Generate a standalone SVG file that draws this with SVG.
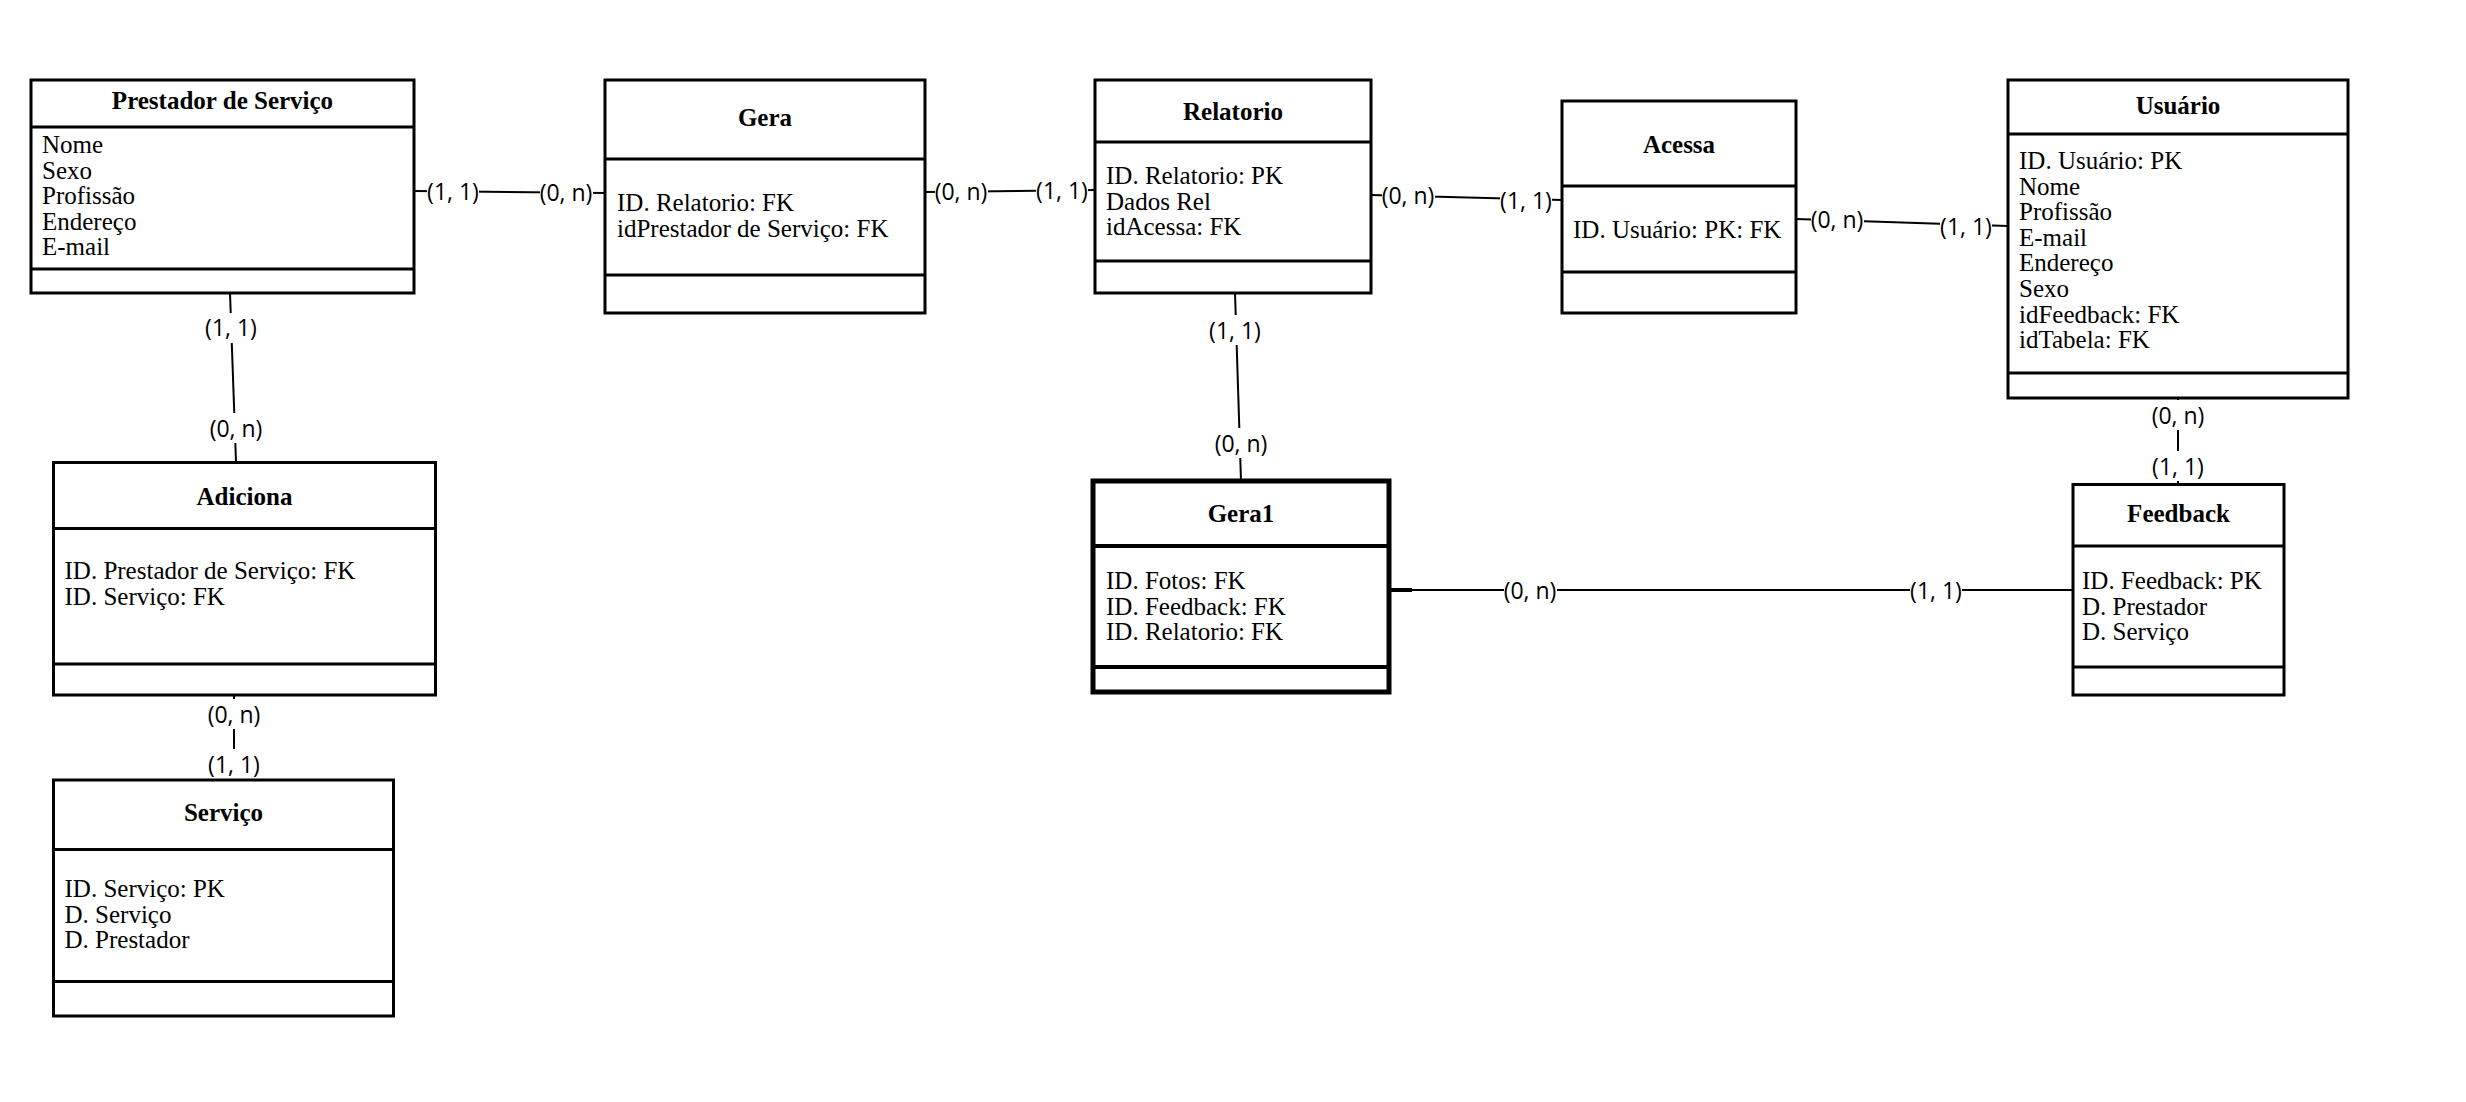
<svg xmlns="http://www.w3.org/2000/svg" width="2466" height="1102" viewBox="0 0 2466 1102">
  <style>
    .box { fill: #ffffff; stroke: #000000; stroke-width: 3; }
    .box-strong { fill: #ffffff; stroke: #000000; stroke-width: 5; }
    .sep { stroke: #000000; stroke-width: 3; }
    .sep-strong { stroke: #000000; stroke-width: 4; }
    .title { font-family: "Liberation Serif", "Times New Roman", serif; font-size: 25px; font-weight: bold; text-anchor: middle; fill: #000; }
    .attr { font-family: "Liberation Serif", "Times New Roman", serif; font-size: 25px; fill: #000; }
    .link { stroke: #000000; stroke-width: 2; fill: none; }
    .card { font-family: "Open Sans", "Noto Sans", sans-serif; font-size: 23px; text-anchor: middle; dominant-baseline: central; fill: #000; }
    .card-bg { fill: #ffffff; }
  </style>

  <rect x="0" y="0" width="2466" height="1102" fill="#ffffff"/>

  <!-- relationship lines and cardinalities -->
  <g id="connectors">
    <!-- Prestador de Serviço - Gera -->
    <line class="link" x1="414" y1="191" x2="605" y2="193"/>
    <!-- Gera - Relatorio -->
    <line class="link" x1="925" y1="192" x2="1095" y2="190"/>
    <!-- Relatorio - Acessa -->
    <line class="link" x1="1371" y1="195" x2="1562" y2="200"/>
    <!-- Acessa - Usuário -->
    <line class="link" x1="1796" y1="219" x2="2008" y2="226"/>
    <!-- Prestador de Serviço - Adiciona -->
    <line class="link" x1="230" y1="293" x2="236" y2="462"/>
    <!-- Adiciona - Serviço -->
    <line class="link" x1="234" y1="695" x2="234" y2="780"/>
    <!-- Relatorio - Gera1 -->
    <line class="link" x1="1235" y1="293" x2="1241" y2="481"/>
    <!-- Usuário - Feedback -->
    <line class="link" x1="2178" y1="398" x2="2178" y2="484"/>
    <!-- Gera1 - Feedback -->
    <line class="link" x1="1389" y1="590" x2="2073" y2="590"/>
    <line x1="1389" y1="590" x2="1412" y2="590" stroke="#000" stroke-width="4"/>

    <g id="cardinalities">
      <rect class="card-bg" x="427" y="178" width="52" height="28"/>
      <text class="card" x="453" y="191">(1, 1)</text>
      <rect class="card-bg" x="540" y="179" width="53" height="28"/>
      <text class="card" x="566" y="192">(0, n)</text>

      <rect class="card-bg" x="935" y="178" width="53" height="28"/>
      <text class="card" x="961" y="191">(0, n)</text>
      <rect class="card-bg" x="1036" y="177" width="52" height="28"/>
      <text class="card" x="1062" y="190">(1, 1)</text>

      <rect class="card-bg" x="1382" y="182" width="53" height="28"/>
      <text class="card" x="1408" y="195">(0, n)</text>
      <rect class="card-bg" x="1500" y="187" width="52" height="28"/>
      <text class="card" x="1526" y="200">(1, 1)</text>

      <rect class="card-bg" x="1811" y="206" width="53" height="28"/>
      <text class="card" x="1837" y="219">(0, n)</text>
      <rect class="card-bg" x="1940" y="213" width="52" height="28"/>
      <text class="card" x="1966" y="226">(1, 1)</text>

      <rect class="card-bg" x="205" y="313" width="52" height="30"/>
      <text class="card" x="231" y="327">(1, 1)</text>
      <rect class="card-bg" x="210" y="413" width="53" height="30"/>
      <text class="card" x="236" y="428">(0, n)</text>

      <rect class="card-bg" x="208" y="699" width="53" height="30"/>
      <text class="card" x="234" y="714">(0, n)</text>
      <rect class="card-bg" x="208" y="749" width="52" height="30"/>
      <text class="card" x="234" y="764">(1, 1)</text>

      <rect class="card-bg" x="1209" y="315" width="52" height="30"/>
      <text class="card" x="1235" y="330">(1, 1)</text>
      <rect class="card-bg" x="1215" y="428" width="53" height="30"/>
      <text class="card" x="1241" y="443">(0, n)</text>

      <rect class="card-bg" x="2152" y="400" width="53" height="30"/>
      <text class="card" x="2178" y="415">(0, n)</text>
      <rect class="card-bg" x="2152" y="451" width="52" height="30"/>
      <text class="card" x="2178" y="466">(1, 1)</text>

      <rect class="card-bg" x="1504" y="576" width="53" height="28"/>
      <text class="card" x="1530" y="590">(0, n)</text>
      <rect class="card-bg" x="1910" y="576" width="52" height="28"/>
      <text class="card" x="1936" y="590">(1, 1)</text>
    </g>
  </g>

  <!-- entity: Prestador de Serviço -->
  <g id="prestador-servico">
    <rect class="box" x="31" y="80" width="383" height="213"/>
    <line class="sep" x1="31" y1="127" x2="414" y2="127"/>
    <line class="sep" x1="31" y1="269" x2="414" y2="269"/>
    <text class="title" x="222.5" y="109">Prestador de Serviço</text>
    <text class="attr" x="42" y="153">Nome</text>
    <text class="attr" x="42" y="178.6">Sexo</text>
    <text class="attr" x="42" y="204.2">Profissão</text>
    <text class="attr" x="42" y="229.8">Endereço</text>
    <text class="attr" x="42" y="255.4">E-mail</text>
  </g>

  <!-- relationship table: Gera -->
  <g id="gera">
    <rect class="box" x="605" y="80" width="320" height="233"/>
    <line class="sep" x1="605" y1="159" x2="925" y2="159"/>
    <line class="sep" x1="605" y1="275" x2="925" y2="275"/>
    <text class="title" x="765" y="126">Gera</text>
    <text class="attr" x="617" y="211">ID. Relatorio: FK</text>
    <text class="attr" x="617" y="236.6">idPrestador de Serviço: FK</text>
  </g>

  <!-- entity: Relatorio -->
  <g id="relatorio">
    <rect class="box" x="1095" y="80" width="276" height="213"/>
    <line class="sep" x1="1095" y1="142" x2="1371" y2="142"/>
    <line class="sep" x1="1095" y1="261" x2="1371" y2="261"/>
    <text class="title" x="1233" y="120">Relatorio</text>
    <text class="attr" x="1106" y="184">ID. Relatorio: PK</text>
    <text class="attr" x="1106" y="209.6">Dados Rel</text>
    <text class="attr" x="1106" y="235.2">idAcessa: FK</text>
  </g>

  <!-- relationship table: Acessa -->
  <g id="acessa">
    <rect class="box" x="1562" y="101" width="234" height="212"/>
    <line class="sep" x1="1562" y1="186" x2="1796" y2="186"/>
    <line class="sep" x1="1562" y1="272" x2="1796" y2="272"/>
    <text class="title" x="1679" y="153">Acessa</text>
    <text class="attr" x="1573" y="238">ID. Usuário: PK: FK</text>
  </g>

  <!-- entity: Usuário -->
  <g id="usuario">
    <rect class="box" x="2008" y="80" width="340" height="318"/>
    <line class="sep" x1="2008" y1="134" x2="2348" y2="134"/>
    <line class="sep" x1="2008" y1="373" x2="2348" y2="373"/>
    <text class="title" x="2178" y="114">Usuário</text>
    <text class="attr" x="2019" y="169">ID. Usuário: PK</text>
    <text class="attr" x="2019" y="194.6">Nome</text>
    <text class="attr" x="2019" y="220.2">Profissão</text>
    <text class="attr" x="2019" y="245.8">E-mail</text>
    <text class="attr" x="2019" y="271.4">Endereço</text>
    <text class="attr" x="2019" y="297">Sexo</text>
    <text class="attr" x="2019" y="322.6">idFeedback: FK</text>
    <text class="attr" x="2019" y="348.2">idTabela: FK</text>
  </g>

  <!-- relationship table: Adiciona -->
  <g id="adiciona">
    <rect class="box" x="53.5" y="462.5" width="382" height="232.5"/>
    <line class="sep" x1="53.5" y1="528.5" x2="435.5" y2="528.5"/>
    <line class="sep" x1="53.5" y1="664" x2="435.5" y2="664"/>
    <text class="title" x="244.5" y="505">Adiciona</text>
    <text class="attr" x="64.5" y="579">ID. Prestador de Serviço: FK</text>
    <text class="attr" x="64.5" y="604.6">ID. Serviço: FK</text>
  </g>

  <!-- entity: Serviço -->
  <g id="servico">
    <rect class="box" x="53.5" y="780" width="340" height="236"/>
    <line class="sep" x1="53.5" y1="849.5" x2="393.5" y2="849.5"/>
    <line class="sep" x1="53.5" y1="981.5" x2="393.5" y2="981.5"/>
    <text class="title" x="223.5" y="821">Serviço</text>
    <text class="attr" x="64.5" y="897">ID. Serviço: PK</text>
    <text class="attr" x="64.5" y="922.6">D. Serviço</text>
    <text class="attr" x="64.5" y="948.2">D. Prestador</text>
  </g>

  <!-- relationship table: Gera1 (heavier outline) -->
  <g id="gera1">
    <rect class="box-strong" x="1093" y="481" width="296" height="211"/>
    <line class="sep-strong" x1="1093" y1="546" x2="1389" y2="546"/>
    <line class="sep-strong" x1="1093" y1="667" x2="1389" y2="667"/>
    <text class="title" x="1241" y="522">Gera1</text>
    <text class="attr" x="1106" y="589">ID. Fotos: FK</text>
    <text class="attr" x="1106" y="614.6">ID. Feedback: FK</text>
    <text class="attr" x="1106" y="640.2">ID. Relatorio: FK</text>
  </g>

  <!-- entity: Feedback -->
  <g id="feedback">
    <rect class="box" x="2073" y="484.5" width="211" height="210.5"/>
    <line class="sep" x1="2073" y1="546" x2="2284" y2="546"/>
    <line class="sep" x1="2073" y1="667" x2="2284" y2="667"/>
    <text class="title" x="2178.5" y="522">Feedback</text>
    <text class="attr" x="2082" y="589">ID. Feedback: PK</text>
    <text class="attr" x="2082" y="614.6">D. Prestador</text>
    <text class="attr" x="2082" y="640.2">D. Serviço</text>
  </g>
</svg>
